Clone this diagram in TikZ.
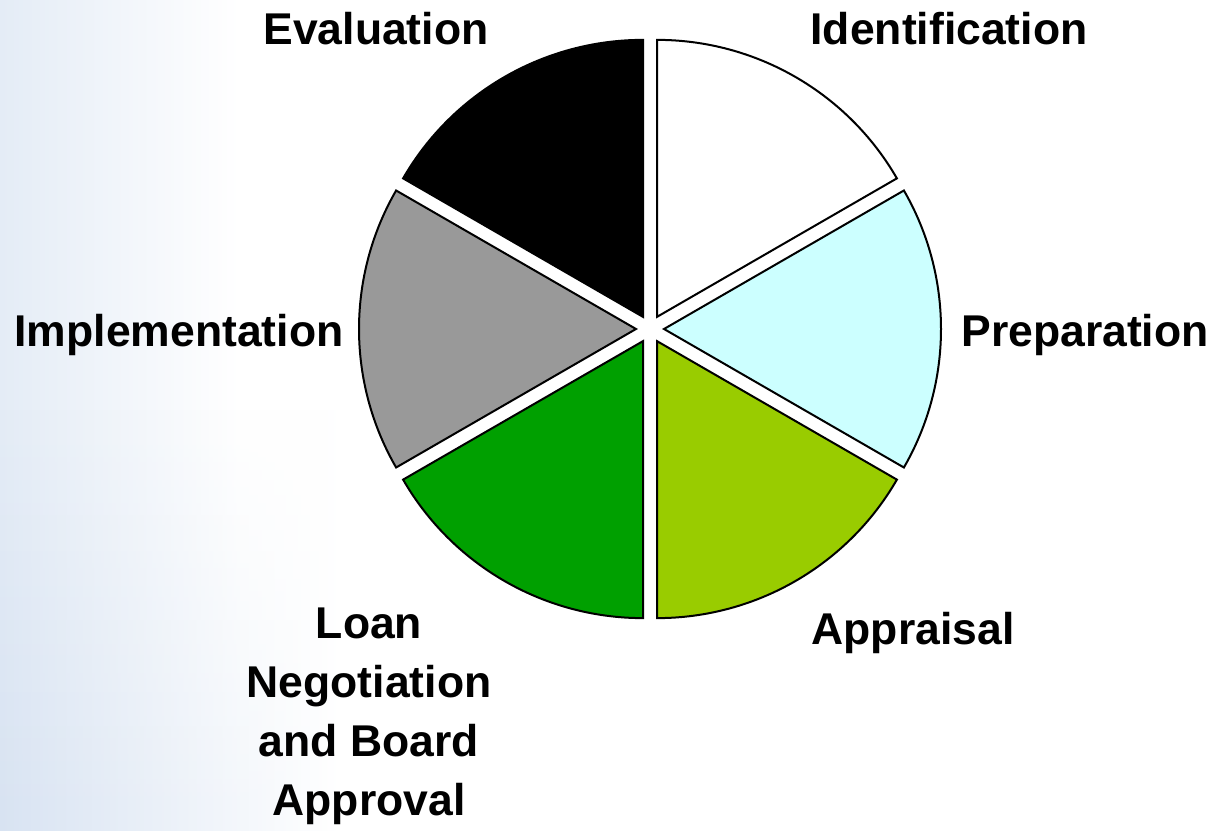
\documentclass[tikz,border=0pt]{standalone}
\usepackage{fontspec}
\setmainfont{Liberation Sans}
\usetikzlibrary{calc,fadings}
\definecolor{bgblue}{RGB}{228,236,246}
\definecolor{bgblue2}{RGB}{216,227,242}
\definecolor{cyanlight}{RGB}{204,255,255}
\definecolor{yelgreen}{RGB}{153,204,0}
\definecolor{dkgreen}{RGB}{0,160,0}
\definecolor{midgray}{RGB}{153,153,153}
\tikzset{
  lbl/.style={font=\fontsize{44.5}{59}\selectfont\bfseries, anchor=base, inner sep=0pt, align=center},
  sector/.style={draw=black, line width=2pt, line join=miter},
}
\begin{document}
\begin{tikzpicture}[x=1pt,y=1pt]
\useasboundingbox (0,0) rectangle (1215,830);
\fill[white] (0,0) rectangle (1215,830);
\shade[left color=bgblue, right color=white] (0,0) rectangle (240,830);
\shade[left color=bgblue2, right color=white, path fading=north] (0,0) rectangle (340,420);
\coordinate (C) at (650,501);
\def\R{277}
\def\d{14}
\foreach \a/\b/\c in {30/90/white, -30/30/cyanlight, -90/-30/yelgreen, -150/-90/dkgreen, 150/210/midgray, 90/150/black}{
  \pgfmathsetmacro{\m}{(\a+\b)/2}
  \draw[sector, fill=\c] ($(C)+(\m:\d)$) -- ++(\a:\R) arc[start angle=\a, end angle=\b, radius=\R] -- cycle;
}
\node[lbl] (eval) at (376,785) {Evaluation};
\node[lbl] (ident) at (949,785) {Identification};
\node[lbl] (impl) at (179,483) {Implementation};
\node[lbl] (prep) at (1085,483) {Preparation};
\node[lbl] (appr) at (913,185) {Appraisal};
\node[lbl, anchor=north] (loan) at (369,222) {Loan\\Negotiation\\and Board\\Approval};
\end{tikzpicture}
\end{document}
